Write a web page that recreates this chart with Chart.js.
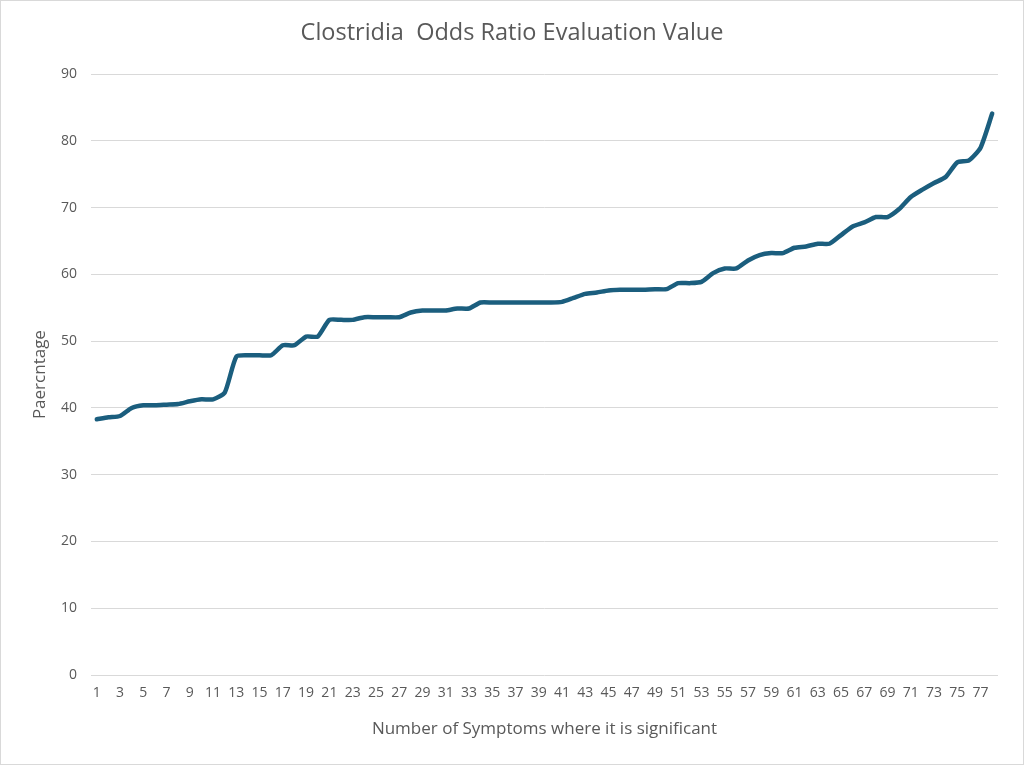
<!DOCTYPE html>
<html>
<head>
<meta charset="utf-8">
<title>Clostridia Odds Ratio Evaluation Value</title>
<script src="https://cdn.jsdelivr.net/npm/chart.js@4.4.1/dist/chart.umd.min.js"></script>
<style>
  html, body { margin: 0; padding: 0; background: #fff; }
  canvas { display: block; }
</style>
</head>
<body>
<canvas id="lineChart" width="1024" height="765"></canvas>
<script>
// Data
const symptoms = [];
for (let i = 1; i <= 78; i++) symptoms.push(String(i));

const oddsRatioValues = [
  38.3, 38.6, 38.8, 40.0, 40.4, 40.4, 40.5, 40.6, 41.0, 41.3,
  41.3, 42.3, 47.7, 47.9, 47.9, 47.9, 49.4, 49.4, 50.7, 50.7,
  53.2, 53.2, 53.2, 53.6, 53.6, 53.6, 53.6, 54.3, 54.6, 54.6,
  54.6, 54.9, 54.9, 55.8, 55.8, 55.8, 55.8, 55.8, 55.8, 55.8,
  55.9, 56.5, 57.1, 57.3, 57.6, 57.7, 57.7, 57.7, 57.8, 57.8,
  58.7, 58.7, 58.9, 60.2, 60.9, 60.9, 62.1, 62.9, 63.2, 63.2,
  64.0, 64.2, 64.6, 64.6, 65.9, 67.2, 67.8, 68.6, 68.6, 69.8,
  71.6, 72.7, 73.7, 74.6, 76.8, 77.1, 79.0, 84.1
];

const yTicks = [0, 10, 20, 30, 40, 50, 60, 70, 80, 90];

const textColor = '#595959';
const gridColor = '#d9d9d9';
const fontFamily = "'Open Sans', 'Liberation Sans', sans-serif";

// white background + thin outer border like the Excel chart frame
const frame = {
  id: 'frame',
  beforeDraw(chart) {
    const ctx = chart.ctx;
    ctx.save();
    ctx.fillStyle = '#fff';
    ctx.fillRect(0, 0, chart.width, chart.height);
    ctx.strokeStyle = '#d9d9d9';
    ctx.lineWidth = 1;
    ctx.strokeRect(0.5, 0.5, chart.width - 1, chart.height - 1);
    ctx.restore();
  }
};

new Chart(document.getElementById('lineChart'), {
  type: 'line',
  data: {
    labels: symptoms,
    datasets: [{
      data: oddsRatioValues,
      borderColor: '#1b5e7e',
      borderWidth: 4.5,
      pointRadius: 0,
      fill: false,
      tension: 0.2,
      borderCapStyle: 'round',
      borderJoinStyle: 'round'
    }]
  },
  options: {
    responsive: false,
    animation: false,
    layout: { padding: 0 },
    plugins: {
      legend: { display: false },
      tooltip: { enabled: false },
      title: {
        display: true,
        text: 'Clostridia  Odds Ratio Evaluation Value',
        color: textColor,
        font: { family: fontFamily, size: 23.5, weight: 'normal', lineHeight: 1.2 },
        padding: { top: 19, bottom: 27 }
      }
    },
    scales: {
      x: {
        type: 'category',
        offset: true,
        grid: { display: false, drawTicks: false },
        border: { display: false },
        ticks: {
          color: textColor,
          font: { family: fontFamily, size: 14 },
          padding: 10,
          autoSkip: false,
          maxRotation: 0,
          minRotation: 0,
          callback: function (val, idx) {
            return idx % 2 === 0 ? this.getLabelForValue(val) : '';
          }
        },
        title: {
          display: true,
          text: 'Number of Symptoms where it is significant',
          color: textColor,
          font: { family: fontFamily, size: 17 },
          padding: { top: 4, bottom: 26 }
        },
        afterFit(scale) { scale.height = 90; }
      },
      y: {
        min: 0,
        max: 90,
        afterBuildTicks(scale) {
          scale.ticks = yTicks.map(v => ({ value: v }));
        },
        grid: { color: gridColor, lineWidth: 1, drawTicks: false },
        border: { display: false },
        ticks: {
          color: textColor,
          font: { family: fontFamily, size: 14 },
          padding: 14
        },
        title: {
          display: true,
          text: 'Paercntage',
          color: textColor,
          font: { family: fontFamily, size: 17 },
          padding: { top: 30, bottom: 0 }
        },
        afterFit(scale) { scale.width = 91; }
      },
      // empty right-hand spacer so the title stays centred on the page
      yRight: {
        position: 'right',
        grid: { display: false, drawTicks: false },
        border: { display: false },
        ticks: { display: false },
        afterFit(scale) { scale.width = 26; }
      }
    }
  },
  plugins: [frame]
});
</script>
</body>
</html>
